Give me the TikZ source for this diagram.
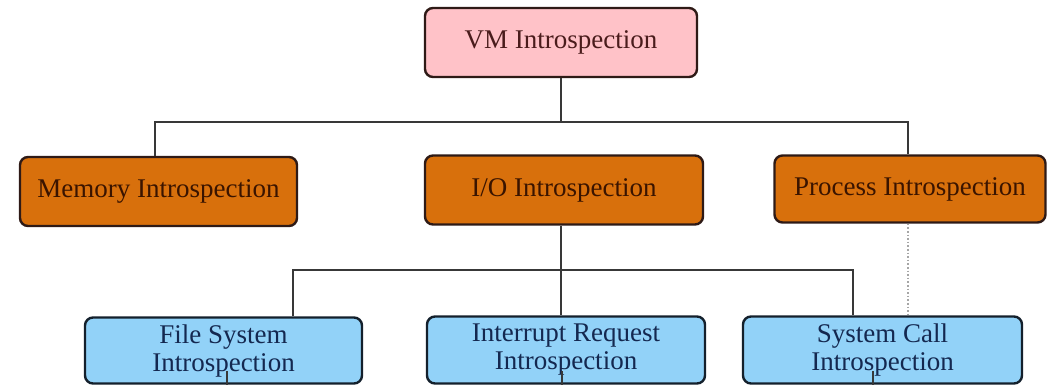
\documentclass[tikz,border=0pt]{standalone}
\usepackage{fontspec}
\setmainfont{Liberation Serif}
\definecolor{vmfill}{HTML}{FFC2C8}
\definecolor{vmtext}{HTML}{4A1C1C}
\definecolor{midfill}{HTML}{D8700C}
\definecolor{midtext}{HTML}{3A1400}
\definecolor{lowfill}{HTML}{92D2F8}
\definecolor{lowtext}{HTML}{142850}
\definecolor{edgebrown}{HTML}{2E1A16}
\definecolor{edgeblue}{HTML}{14202C}
\definecolor{wire}{HTML}{383838}
\tikzset{
  x=1pt, y=-1pt,
  box/.style={rectangle, rounded corners=8pt, line width=2.4pt, inner sep=0pt,
    font=\fontsize{27}{28}\selectfont, align=center},
  rootbox/.style={box, draw=edgebrown, fill=vmfill, text=vmtext},
  midbox/.style={box, draw=edgebrown, fill=midfill, text=midtext},
  lowbox/.style={box, draw=edgeblue, fill=lowfill, text=lowtext},
  wireline/.style={draw=wire, line width=1.8pt},
  dotline/.style={draw=gray!70, line width=1.6pt, dotted},
}
\begin{document}
\begin{tikzpicture}
\useasboundingbox (0,0) rectangle (1048,386);
% boxes
\node[rootbox, minimum width=272pt, minimum height=69pt] (vm) at (561,42.5) {VM Introspection};
\node[midbox, minimum width=277pt, minimum height=69pt] (mem) at (158.5,191.5) {Memory Introspection};
\node[midbox, minimum width=278pt, minimum height=69pt] (io) at (564,190) {I/O Introspection};
\node[midbox, minimum width=271pt, minimum height=67pt] (proc) at (910,189) {Process Introspection};
\node[lowbox, minimum width=277pt, minimum height=66pt] (fs) at (223.5,350.5) {File System\\Introspection};
\node[lowbox, minimum width=278pt, minimum height=67pt] (irq) at (566,350) {Interrupt Request\\Introspection};
\node[lowbox, minimum width=279pt, minimum height=67pt] (sc) at (882.5,350) {System Call\\Introspection};
% junction points
\coordinate (top) at (561,122);
\coordinate (low) at (561,270);
\coordinate (memj) at (155,122);
\coordinate (procj) at (908,122);
\coordinate (fsj) at (293,270);
\coordinate (scj) at (853,270);
% upper tree
\draw[wireline] (vm.south -| top) -- (top);
\draw[wireline] (memj |- mem.north) -- (memj) -- (procj) -- (procj |- proc.north);
% lower tree
\draw[wireline] (io.south -| low) -- (low);
\draw[wireline] (fsj |- fs.north) -- (fsj) -- (scj) -- (scj |- sc.north);
\draw[wireline] (low) -- (low |- irq.north);
% dotted link
\draw[dotline] (procj |- proc.south) -- (procj |- sc.north);
% stubs leaving the lower boxes
\coordinate (fss) at (227,371);
\coordinate (irqs) at (562,371);
\coordinate (scs) at (873,371);
\draw[wireline, line width=1.4pt] (fss) -- (fss |- fs.south);
\draw[wireline, line width=1.4pt] (irqs) -- (irqs |- irq.south);
\draw[wireline, line width=1.4pt] (scs) -- (scs |- sc.south);
\end{tikzpicture}
\end{document}
